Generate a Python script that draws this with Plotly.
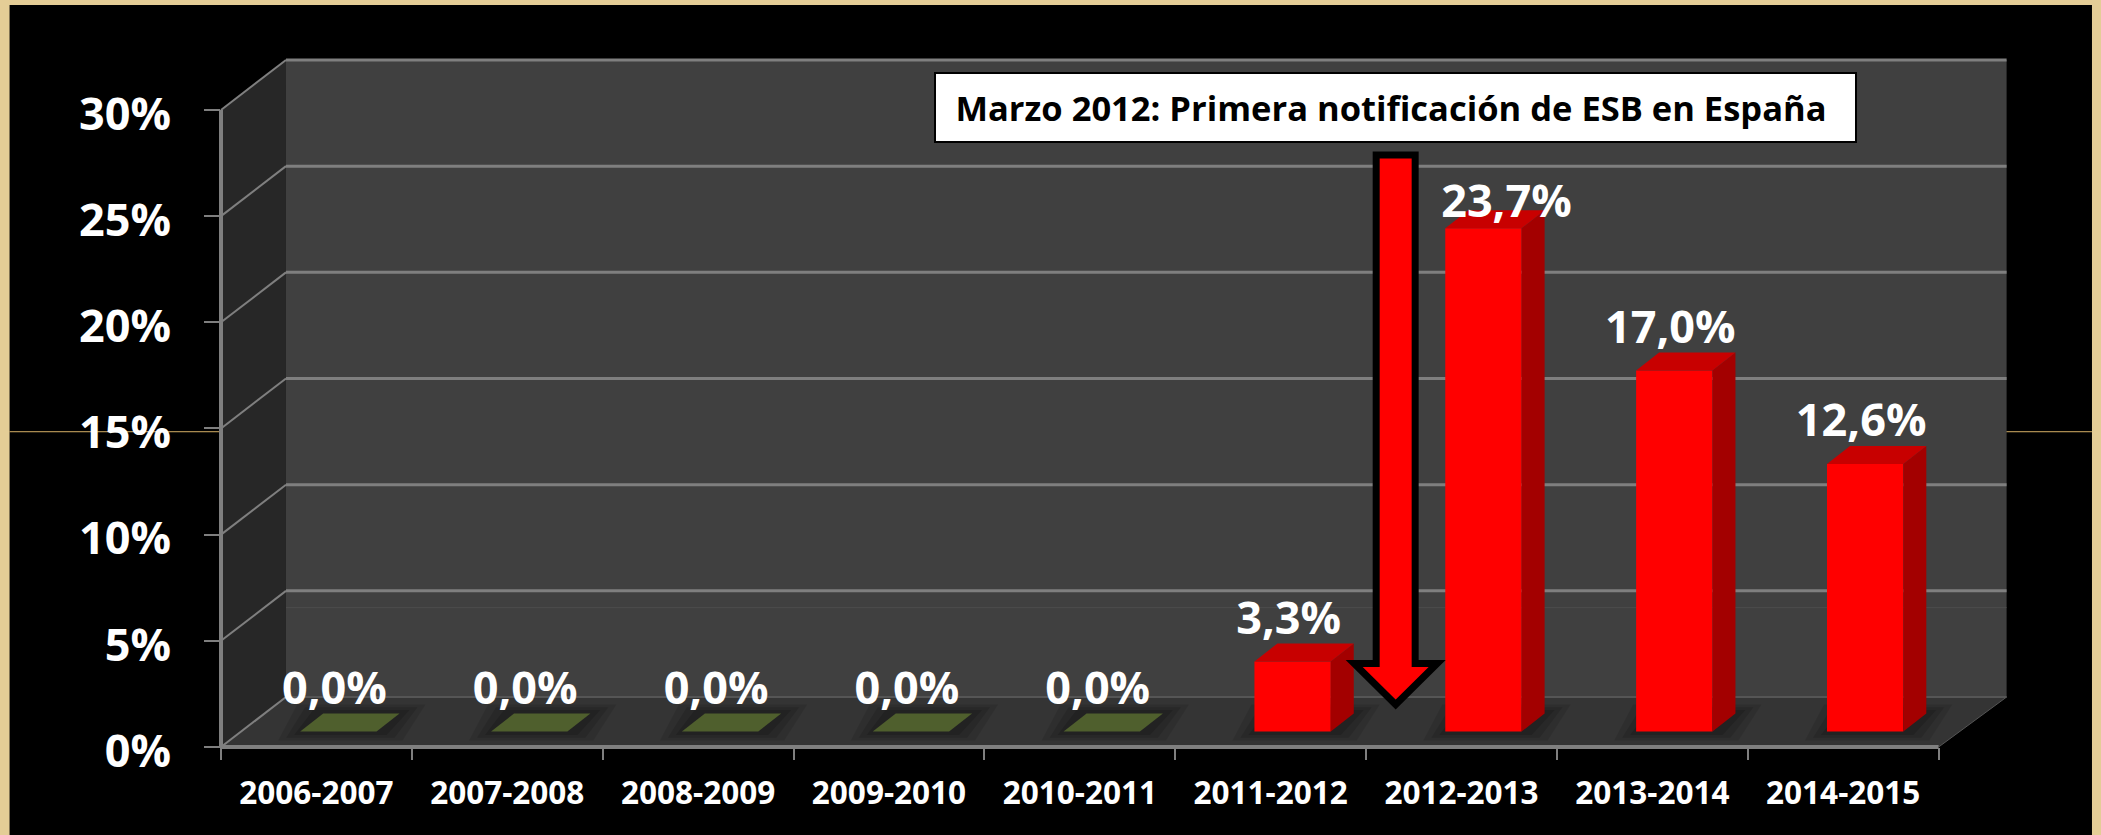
import plotly.graph_objects as go

# ---- data ----
seasons = ["2006-2007", "2007-2008", "2008-2009", "2009-2010", "2010-2011",
           "2011-2012", "2012-2013", "2013-2014", "2014-2015"]
values = [0.0, 0.0, 0.0, 0.0, 0.0, 3.3, 23.7, 17.0, 12.6]
labels = ["0,0%", "0,0%", "0,0%", "0,0%", "0,0%", "3,3%", "23,7%", "17,0%", "12,6%"]
y_ticks = [0, 5, 10, 15, 20, 25, 30]
y_tick_labels = ["0%", "5%", "10%", "15%", "20%", "25%", "30%"]
note = "Marzo 2012: Primera notificación de ESB en España"

# ---- page geometry (pixels) ----
W, H = 2101, 835
L, R, T, B = 220.5, 2012, 40, 747.5     # plot rectangle
PX_X = 190.9                            # pixels per category
PX_Y = 21.25                            # pixels per percentage point
x_range = [-0.5, -0.5 + (R - L) / PX_X]
y_range = [0, (B - T) / PX_Y]


def px_x(v):
    return (v - L) / (R - L)


def px_y(v):
    return (B - v) / (B - T)


# 3D look, expressed in axis units
WALL_DX, WALL_DY = 65, 50               # px
BAR_W = 0.40
BAR_SHIFT = 0.115
BAR_BASE = 15.5 / PX_Y
DEPTH_X = 23 / PX_X
DEPTH_Y = 18 / PX_Y

FONT = "Open Sans"
GRID = "#7f7f7f"
shapes = []


def rect_px(x0, y0, x1, y1, color):
    shapes.append(dict(type="rect", xref="paper", yref="paper", layer="below",
                       x0=px_x(x0), x1=px_x(x1), y0=px_y(y0), y1=px_y(y1),
                       fillcolor=color, line_width=0))


def poly_px(pts, color):
    d = "M" + " L".join(f"{px_x(a):.5f},{px_y(b):.5f}" for a, b in pts) + " Z"
    shapes.append(dict(type="path", xref="paper", yref="paper", layer="below",
                       path=d, fillcolor=color, line_width=0))


def line_px(x0, y0, x1, y1, color=GRID, width=3):
    shapes.append(dict(type="line", xref="paper", yref="paper", layer="below",
                       x0=px_x(x0), x1=px_x(x1), y0=px_y(y0), y1=px_y(y1),
                       line=dict(color=color, width=width)))


# frame
rect_px(9, 5, 2092, 840, "#000000")
line_px(9, 432, 220, 432, "#d6b066", 1)
line_px(2006, 432, 2092, 432, "#d6b066", 1)

# walls and floor
xf0, xf1 = L, L + 9 * PX_X
xb0, xb1 = xf0 + WALL_DX, xf1 + WALL_DX + 3
top = B - 30 * PX_Y
poly_px([(xb0, top - WALL_DY), (xb1, top - WALL_DY), (xb1, B - WALL_DY), (xb0, B - WALL_DY)], "#404040")
poly_px([(xf0, top), (xb0, top - WALL_DY), (xb0, B - WALL_DY), (xf0, B)], "#272727")
poly_px([(xf0, B), (xb0, B - WALL_DY), (xb1, B - WALL_DY), (xf1, B)], "#343434")

# floor shadows around each bar
for i in range(len(seasons)):
    cx = L + (i + 0.5) * PX_X + BAR_SHIFT * PX_X
    half = BAR_W * PX_X / 2
    for grow, alpha in ((26, .10), (18, .12), (10, .15)):
        poly_px([(cx - half - grow + 4, B - 15.5 + grow * .35),
                 (cx + half + grow, B - 15.5 + grow * .35),
                 (cx + half + 23 + grow, B - 33.5 - grow * .35),
                 (cx - half + 23 - grow, B - 33.5 - grow * .35)],
                f"rgba(0,0,0,{alpha})")

# gridlines on the walls
for t in y_ticks:
    y = B - t * PX_Y
    if t == 0:
        line_px(xb0, y - WALL_DY, xb1, y - WALL_DY, "#555555", 2)
        line_px(xf0, y, xb0, y - WALL_DY, GRID, 2)
    else:
        line_px(xb0, y - WALL_DY, xb1, y - WALL_DY, GRID, 3)
        line_px(xf0, y, xb0, y - WALL_DY, GRID, 2)
line_px(xb0, 608, xb1, 608, "#4c4c4c", 1)

# front axis lines
line_px(xf0, top, xf0, B + 1, GRID, 4)
line_px(xf0, B, xf1, B, GRID, 4)
line_px(xf1, B, xb1, B - WALL_DY, "#555555", 1)

fig = go.Figure()

xs = [i + BAR_SHIFT for i in range(len(seasons))]

# front faces
fig.add_trace(go.Bar(x=xs, y=values, base=BAR_BASE, width=BAR_W,
                     marker=dict(color="#ff0000", line_width=0),
                     showlegend=False, hoverinfo="skip", cliponaxis=False))

# side and top faces
for x, v in zip(xs, values):
    x0, x1 = x - BAR_W / 2, x + BAR_W / 2
    y0, y1 = BAR_BASE, BAR_BASE + v
    if v > 0:
        fig.add_trace(go.Scatter(
            x=[x1, x1 + DEPTH_X, x1 + DEPTH_X, x1, x1],
            y=[y0, y0 + DEPTH_Y, y1 + DEPTH_Y, y1, y0],
            mode="lines", fill="toself", fillcolor="#a30000", line=dict(width=0),
            showlegend=False, hoverinfo="skip", cliponaxis=False))
    fig.add_trace(go.Scatter(
        x=[x0, x1, x1 + DEPTH_X, x0 + DEPTH_X, x0],
        y=[y1, y1, y1 + DEPTH_Y, y1 + DEPTH_Y, y1],
        mode="lines", fill="toself", fillcolor="#c80000" if v > 0 else "#4f5f2d",
        line=dict(width=0), showlegend=False, hoverinfo="skip", cliponaxis=False))

# data labels
LABEL_UP = 39 / PX_Y
label_x = [x - 4 / PX_X for x in xs]
label_y = [BAR_BASE + v + LABEL_UP for v in values]
label_x[6] = xs[6] + 23 / PX_X          # this label was moved by hand in the original
label_y[6] = BAR_BASE + values[6] + 23 / PX_Y
fig.add_trace(go.Scatter(x=label_x, y=label_y, text=labels, mode="text",
                         textposition="middle center",
                         textfont=dict(family=FONT, size=45, color="#ffffff", weight=700),
                         showlegend=False, hoverinfo="skip", cliponaxis=False))

# arrow
arrow = [(1376, 155), (1415, 155), (1415, 664), (1437, 664), (1395.5, 705),
         (1354, 664), (1376, 664)]
shapes.append(dict(type="path", xref="paper", yref="paper", layer="above",
                   path="M" + " L".join(f"{px_x(a):.5f},{px_y(b):.5f}" for a, b in arrow) + " Z",
                   fillcolor="#ff0000", line=dict(color="#000000", width=7)))

fig.update_layout(
    width=W, height=H, autosize=False,
    margin=dict(l=L, r=W - R, t=T, b=H - B, autoexpand=False, pad=0),
    paper_bgcolor="#e4cd96", plot_bgcolor="rgba(0,0,0,0)",
    showlegend=False, shapes=shapes, barmode="overlay",
    xaxis=dict(range=x_range, tickmode="array",
               tickvals=list(range(len(seasons))), ticktext=seasons,
               ticks="", showgrid=False, zeroline=False, showline=False,
               ticklabelstandoff=24,
               tickfont=dict(family=FONT, size=31.5, color="#ffffff", weight=700),
               minor=dict(ticks="outside", tickmode="array",
                          tickvals=[i - 0.5 for i in range(len(seasons) + 1)],
                          ticklen=12, tickwidth=2, tickcolor=GRID, showgrid=False)),
    yaxis=dict(range=y_range, tickmode="array", tickvals=y_ticks, ticktext=y_tick_labels,
               ticks="outside", ticklen=16, tickwidth=2, tickcolor=GRID,
               showgrid=False, zeroline=False, showline=False,
               ticklabelstandoff=24, ticklabelshift=4,
               tickfont=dict(family=FONT, size=45, color="#ffffff", weight=700)),
    annotations=[dict(text=f"<b>{note}&nbsp;</b>", xref="paper", yref="paper",
                      x=px_x(1395.5), y=px_y(107.5), xanchor="center", yanchor="middle",
                      showarrow=False, width=919, height=67, align="center", valign="middle",
                      bgcolor="#ffffff", bordercolor="#000000", borderwidth=2, borderpad=0,
                      font=dict(family=FONT, size=34.5, color="#000000"))],
)

fig.write_html("out.html", config={"displayModeBar": False},
               post_script="document.body.style.margin='0';document.body.style.overflow='hidden';")
